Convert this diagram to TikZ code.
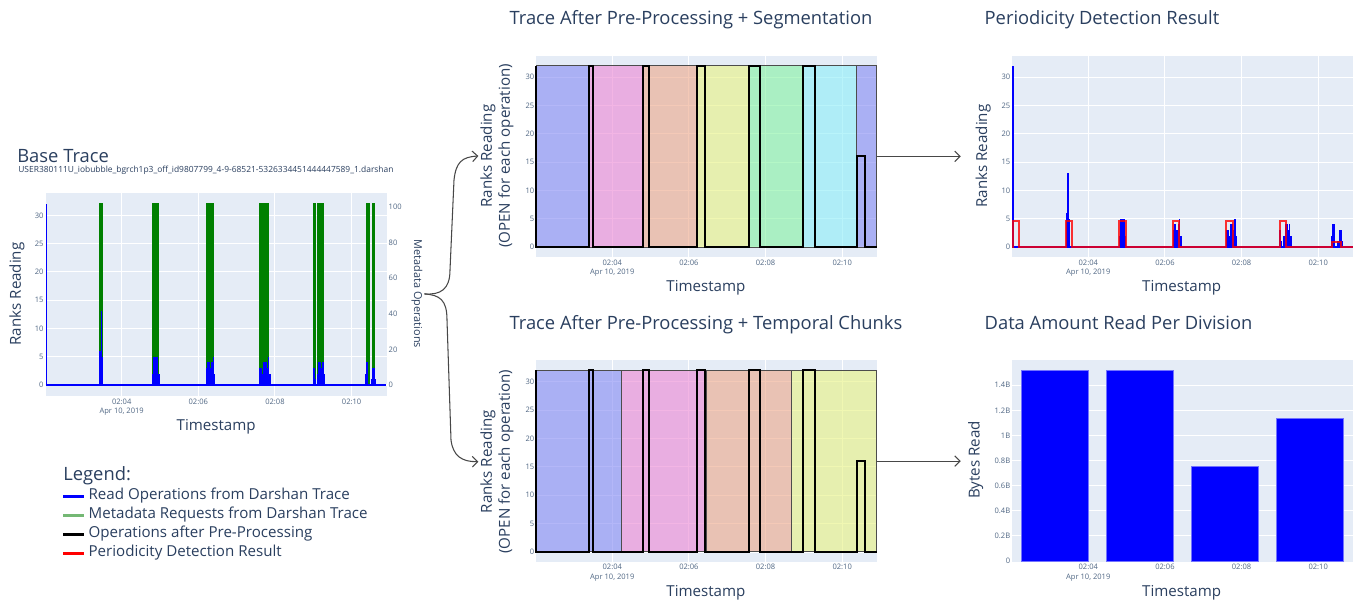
\documentclass[tikz,border=0pt]{standalone}
\usepackage{fontspec}
\setmainfont{Open Sans}
\usetikzlibrary{arrows.meta}

\definecolor{plotbg}{HTML}{E5ECF6}
\definecolor{ink}{HTML}{2A3F5F}
\definecolor{tickink}{HTML}{506784}
\definecolor{readblue}{HTML}{0000FF}
\definecolor{mdgreen}{HTML}{008000}
\definecolor{leggreen}{HTML}{74B874}
\definecolor{segA}{RGB}{131,136,244}
\definecolor{segB}{RGB}{236,133,211}
\definecolor{segC}{RGB}{237,166,136}
\definecolor{segD}{RGB}{231,242,128}
\definecolor{segE}{RGB}{131,242,161}
\definecolor{segF}{RGB}{139,238,248}

\tikzset{
  plotarea/.style={fill=plotbg},
  gridline/.style={white, line width=0.55pt},
  zeroline/.style={white, line width=1.1pt},
  ticklabel/.style={font=\fontsize{4.3}{5}\selectfont, text=tickink, inner sep=0pt},
  paneltitle/.style={font=\fontsize{10.45}{12}\selectfont, text=ink, anchor=base west, inner sep=0pt},
  filename/.style={font=\fontsize{4.8}{5}\selectfont, text=ink, anchor=base west, inner sep=0pt},
  axistitle/.style={font=\fontsize{8.6}{10.2}\selectfont, text=ink, align=center, inner sep=1pt},
  legenditem/.style={font=\fontsize{8.6}{10}\selectfont, text=ink, anchor=base west, inner sep=0pt},
  segment/.style={draw=black!70, line width=0.45pt, fill opacity=0.6},
  preproc/.style={black, line width=1.15pt},
  readop/.style={fill=readblue},
  detected/.style={red, line width=1.1pt, opacity=0.8},
  bytesbar/.style={fill=readblue, draw=blue!55!white, line width=0.4pt},
  flow/.style={-{Straight Barb[length=3pt,width=6pt]}, black!72, line width=0.6pt},
}

% plot background with rank grid
\newcommand{\rankgrid}[4]{%
  \fill[plotarea] (#1,#3) rectangle (#2,#4);
  \foreach \v in {5,10,...,30} \draw[gridline] (#1,\v) -- (#2,\v);
  \foreach \t in {4,6,8,10} \draw[gridline] (\t,#3) -- (\t,#4);
  \draw[zeroline] (#1,0) -- (#2,0);}
\newcommand{\rankticks}[1]{%
  \foreach \v in {0,5,...,30}
    \node[ticklabel, anchor=east, xshift=-1pt] at (#1,\v) {\v};}
\newcommand{\timeticks}[1]{%
  \foreach \t/\l in {4/02:04,6/02:06,8/02:08,10/02:10}
    \node[ticklabel, yshift=-3.1pt] at (\t,#1) {\l};
  \node[ticklabel, yshift=-8.9pt] at (4,#1) {Apr 10, 2019};}
% read operations (ranks reading)
\newcommand{\readops}{%
  \foreach \a/\b/\v in {2.017/2.05/32, 3.416/3.45/6, 3.45/3.49/13, 3.49/3.52/5,
      4.798/4.82/2, 4.82/4.955/5, 4.955/4.99/2,
      6.199/6.23/3, 6.23/6.30/4, 6.30/6.34/3, 6.34/6.38/4, 6.38/6.40/5, 6.40/6.44/2,
      7.59/7.67/3, 7.67/7.70/2, 7.70/7.78/4, 7.78/7.81/3, 7.81/7.85/5, 7.85/7.89/2,
      8.98/9.04/3, 9.04/9.06/1, 9.09/9.13/2, 9.13/9.21/4, 9.21/9.24/3, 9.24/9.27/4, 9.27/9.31/2,
      10.34/10.37/2, 10.37/10.44/4, 10.50/10.53/1, 10.53/10.61/3, 10.61/10.63/1}
    \fill[readop] (\a,0) rectangle (\b,\v);
  \draw[readblue, line width=1.1pt] (2.017,0) -- (10.9,0);}
% operations after pre-processing
\newcommand{\preproctrace}{%
  \draw[preproc] (2.017,32) -- (2.017,0)
    \foreach \a/\b/\h in {3.40/3.504/32, 4.793/4.965/32, 6.202/6.418/32,
        7.574/7.853/32, 8.967/9.288/32, 10.376/10.593/16}
      { -- (\a,0) -- (\a,\h) -- (\b,\h) -- (\b,0) } -- (10.898,0);}

\begin{document}
\begin{tikzpicture}[x=0.02cm, y=-0.02cm]
  \fill[white] (0,0) rectangle (1363,604);
  \useasboundingbox (0,0) rectangle (1363,604);

  % base trace
  \node[paneltitle] (basetitle) at (17,162.7) {Base Trace};
  \node[filename] (basefile) at (18,172.5) {USER380111U\_iobubble\_bgrch1p3\_off\_id9807799\_4-9-68521-5326334451444447589\_1.darshan};
  \begin{scope}[shift={(-31.62,385)}, x={(0.7666cm,0cm)}, y={(0cm,0.11314cm)}]
    \rankgrid{2.017}{10.913}{-1.94}{33.94}
    \foreach \a/\b in {3.416/3.504, 4.798/4.973, 6.199/6.400, 7.590/7.851,
        8.983/9.061, 9.095/9.286, 10.373/10.470, 10.522/10.616}
      \fill[mdgreen] (\a,0) rectangle (\b,32.1);
    \readops
    \rankticks{2.017}
    \foreach \m in {0,20,...,100}
      \node[ticklabel, anchor=west, xshift=1pt] at (10.913,{0.3152*\m}) {\m};
    \timeticks{-1.94}
    \node[axistitle, rotate=90] (baselab) at (1.27,16.1) {Ranks Reading};
    \node[axistitle, rotate=-90, font=\fontsize{6.2}{7}\selectfont] (mdlab) at (11.704,16.1) {Metadata Operations};
    \node[axistitle] (basetime) at (6.465,-7.3) {Timestamp};
  \end{scope}

  % segmentation
  \node[paneltitle] (segtitle) at (509.3,25) {Trace After Pre-Processing + Segmentation};
  \begin{scope}[shift={(458.98,247)}, x={(0.7666cm,0cm)}, y={(0cm,0.11334cm)}]
    \rankgrid{2.017}{10.92}{-1.82}{33.7}
    \foreach \a/\b/\c in {2.017/3.40/segA, 3.40/4.793/segB, 4.793/6.202/segC,
        6.202/7.574/segD, 7.574/8.967/segE, 8.967/10.376/segF, 10.376/10.898/segA}
      \filldraw[segment, fill=\c] (\a,0) rectangle (\b,32);
    \preproctrace
    \rankticks{2.017}
    \timeticks{-1.82}
    \node[axistitle, rotate=90] (seglab) at (0.992,16.06) {Ranks Reading\\(OPEN for each operation)};
    \node[axistitle] (segtime) at (6.445,-7.15) {Timestamp};
    \coordinate (seg-out) at (10.92,16);
  \end{scope}

  % temporal chunks
  \node[paneltitle] (chunktitle) at (509.3,330) {Trace After Pre-Processing + Temporal Chunks};
  \begin{scope}[shift={(458.98,551.7)}, x={(0.7666cm,0cm)}, y={(0cm,0.11334cm)}]
    \rankgrid{2.017}{10.92}{-1.76}{33.83}
    \foreach \a/\b/\c in {2.017/4.245/segA, 4.245/6.463/segB, 6.463/8.680/segC, 8.680/10.898/segD}
      \filldraw[segment, fill=\c] (\a,0) rectangle (\b,32);
    \preproctrace
    \rankticks{2.017}
    \timeticks{-1.76}
    \node[axistitle, rotate=90] (chunklab) at (0.992,15.9) {Ranks Reading\\(OPEN for each operation)};
    \node[axistitle] (chunktime) at (6.445,-7.2) {Timestamp};
    \coordinate (chunk-out) at (10.92,16);
  \end{scope}

  % periodicity detection
  \node[paneltitle] (pertitle) at (984.3,25) {Periodicity Detection Result};
  \begin{scope}[shift={(934.98,247)}, x={(0.7666cm,0cm)}, y={(0cm,0.11334cm)}]
    \rankgrid{2.017}{10.898}{-1.82}{33.7}
    \readops
    \draw[detected] (2.017,0)
      \foreach \a/\b/\h in {2.028/2.184/4.64, 3.41/3.575/4.64, 4.80/4.984/4.64, 6.20/6.366/4.64,
          7.59/7.767/4.64, 8.999/9.155/4.64, 10.366/10.593/0.8}
        { -- (\a,0) -- (\a,\h) -- (\b,\h) -- (\b,0) } -- (10.898,0);
    \rankticks{2.017}
    \timeticks{-1.82}
    \node[axistitle, rotate=90] (perlab) at (1.261,16.06) {Ranks Reading};
    \node[axistitle] (pertime) at (6.437,-7.15) {Timestamp};
  \end{scope}

  % data amount
  \node[paneltitle] (bytestitle) at (984.3,330) {Data Amount Read Per Division};
  \begin{scope}[shift={(934.98,561)}, x={(0.7666cm,0cm)}, y={(0cm,2.51cm)}]
    \fill[plotarea] (2.017,-0.006) rectangle (10.898,1.60);
    \foreach \v in {0.2,0.4,0.6,0.8,1,1.2,1.4} \draw[gridline] (2.017,\v) -- (10.898,\v);
    \foreach \a/\b/\h in {2.252/4.0/1.516, 4.47/6.218/1.516, 6.687/8.435/0.755, 8.905/10.653/1.137}
      \filldraw[bytesbar] (\a,0) rectangle (\b,\h);
    \foreach \v/\l in {0/0, 0.2/0.2B, 0.4/0.4B, 0.6/0.6B, 0.8/0.8B, 1/1B, 1.2/1.2B, 1.4/1.4B}
      \node[ticklabel, anchor=east, xshift=-1pt] at (2.017,\v) {\l};
    \timeticks{-0.006}
    \node[axistitle, rotate=90] (byteslab) at (1.062,0.805) {Bytes Read};
    \node[axistitle] (bytestime) at (6.437,-0.253) {Timestamp};
  \end{scope}

  % legend
  \node[paneltitle] (legendtitle) at (63,480.7) {Legend:};
  \fill[readblue] (63.3,495.3) rectangle (84,497.7);
  \node[legenditem] (leg1) at (88.3,500) {Read Operations from Darshan Trace};
  \fill[leggreen] (63.3,514.3) rectangle (84,516.7);
  \node[legenditem] (leg2) at (88.3,519) {Metadata Requests from Darshan Trace};
  \fill[black] (63.3,533.3) rectangle (84,535.7);
  \node[legenditem] (leg3) at (88.3,538) {Operations after Pre-Processing};
  \fill[red] (63.3,552.3) rectangle (84,554.7);
  \node[legenditem] (leg4) at (88.3,557) {Periodicity Detection Result};

  % connectors
  \draw[flow] (mdlab.north) .. controls (440,295) and (450,290) .. (450,270)
    -- (454,180) .. controls (456,162) and (462,157) .. (seglab.north);
  \draw[flow] (mdlab.north) .. controls (440,295) and (447,300) .. (447,320)
    -- (451,440) .. controls (453,456) and (462,462) .. (chunklab.north);
  \draw[flow, shorten >=7.3pt] (seg-out) -- (seg-out -| perlab.north);
  \draw[flow, shorten >=3pt] (chunk-out) -- (chunk-out -| byteslab.north);
\end{tikzpicture}
\end{document}
